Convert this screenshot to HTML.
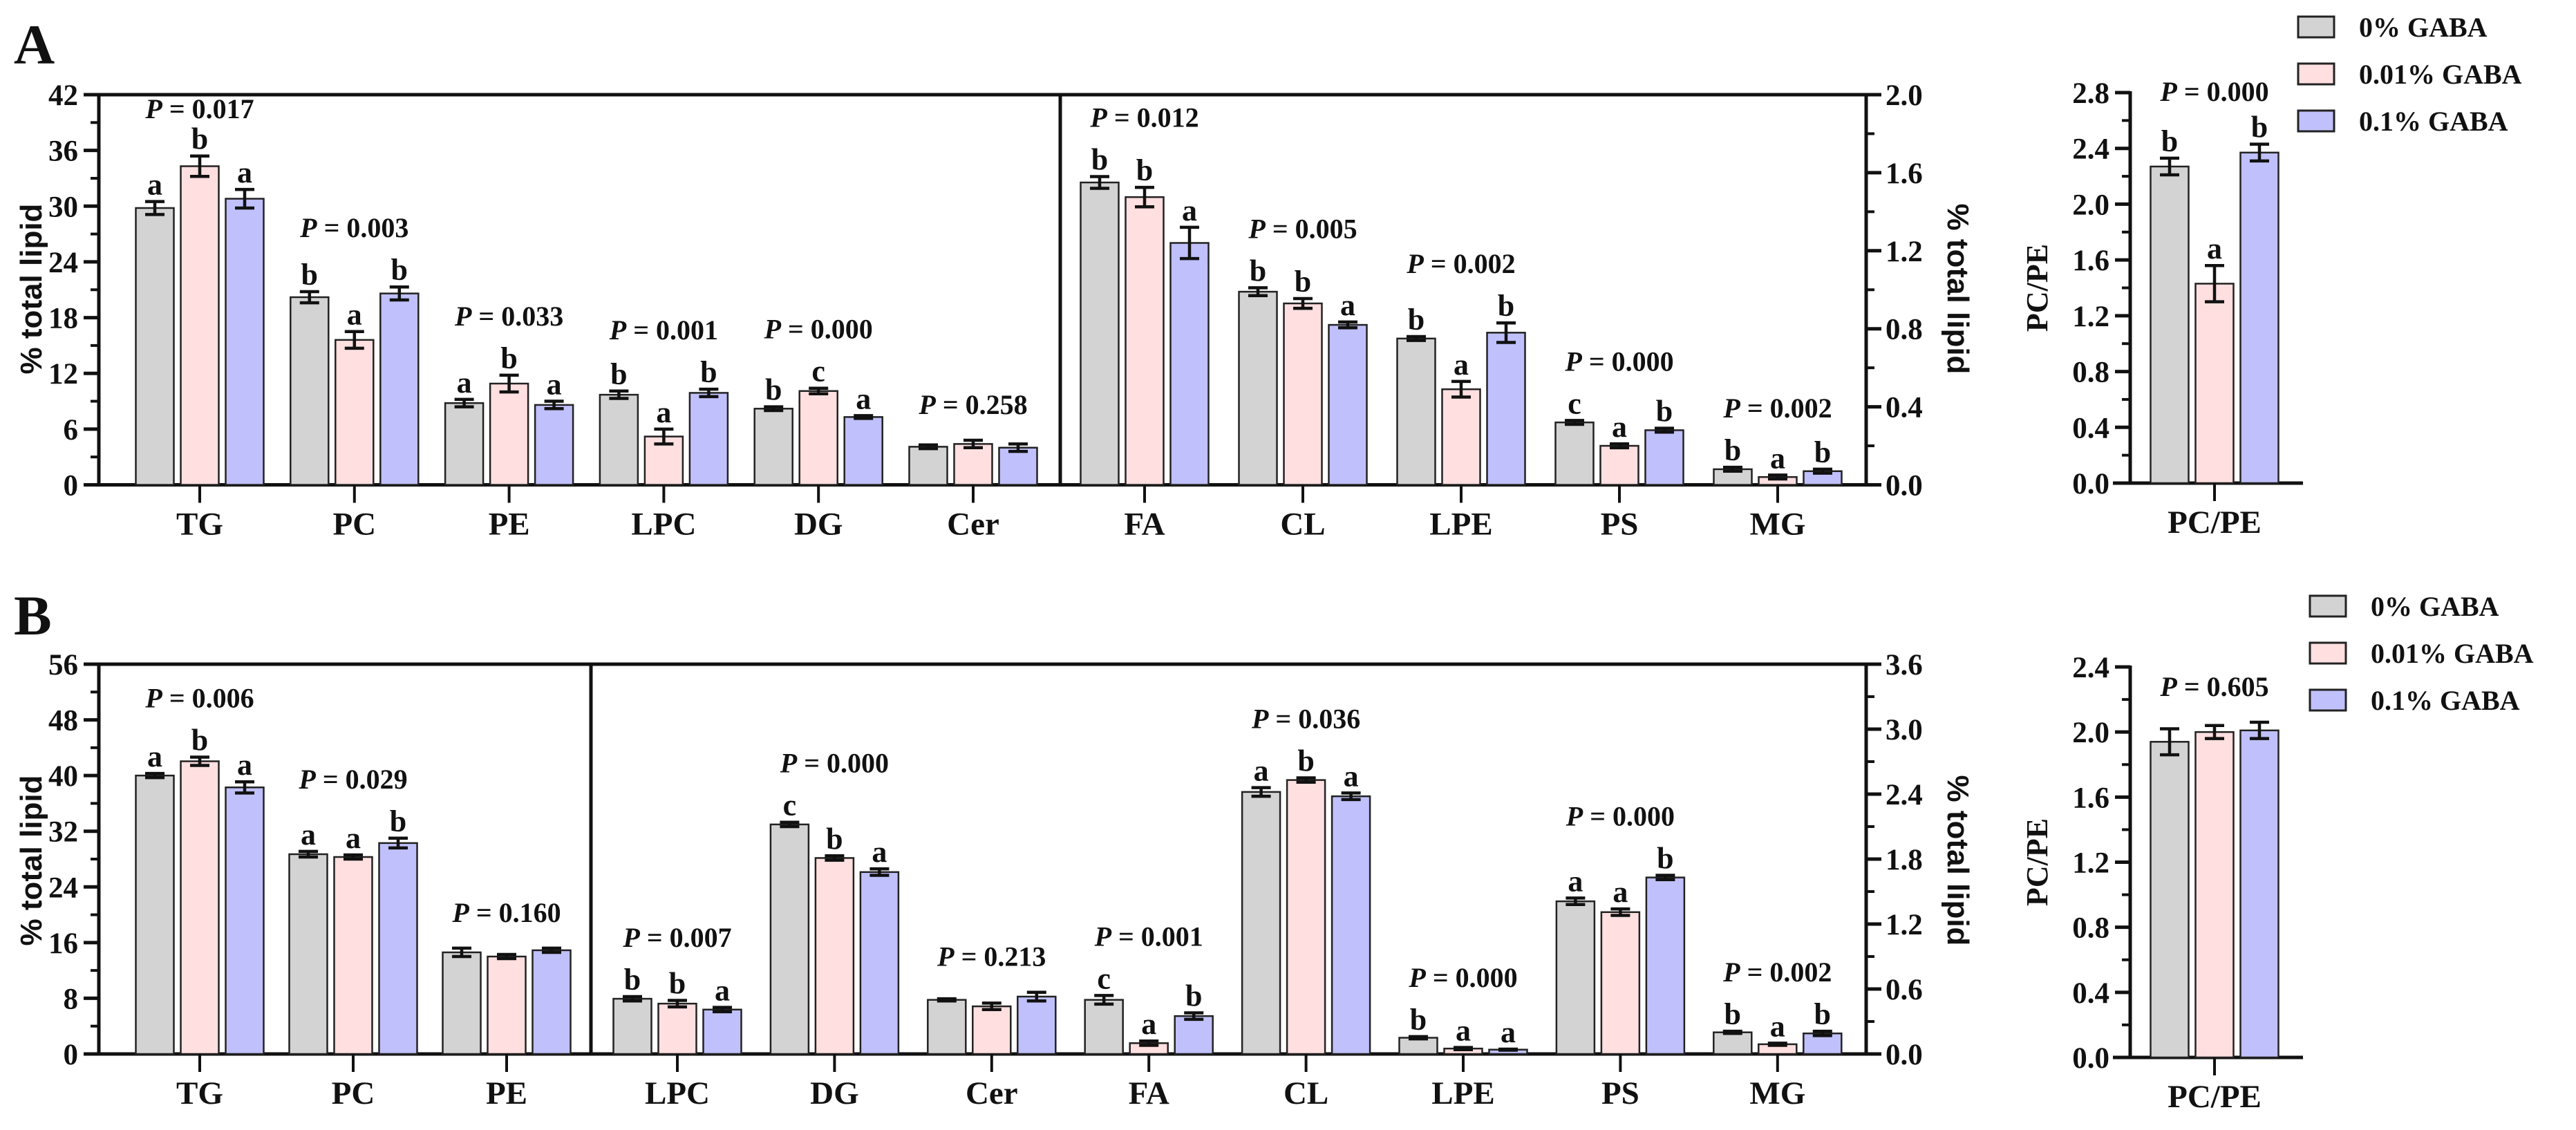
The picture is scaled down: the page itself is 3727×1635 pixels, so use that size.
<!DOCTYPE html>
<html><head><meta charset="utf-8">
<style>
html,body{margin:0;padding:0;background:#fff;}
svg{display:block;}
text{font-family:"Liberation Serif",serif;font-weight:bold;fill:#111;}
.sans{font-family:"Liberation Sans",sans-serif;}
</style></head>
<body>
<svg id="chart" width="3727" height="1635" viewBox="0 0 3727 1635" xmlns="http://www.w3.org/2000/svg">
<rect width="3727" height="1635" fill="#fff"/>
<text x="20" y="92" font-size="82">A</text>
<text x="20" y="918" font-size="82">B</text>
<g id="root"></g>
</svg>
<script>
// ---------- Panel A data ----------
const catsA1 = ["TG","PC","PE","LPC","DG","Cer"];
const ctrlA1 = [29.8,20.2,8.8,9.7,8.2,4.1];
const lowA1  = [34.3,15.6,10.9,5.2,10.1,4.4];
const highA1 = [30.8,20.6,8.6,9.9,7.3,4.0];
const errCtrlA1 = [0.7,0.6,0.4,0.4,0.2,0.2];
const errLowA1  = [1.1,0.9,0.9,0.8,0.3,0.4];
const errHighA1 = [1.0,0.7,0.4,0.4,0.15,0.4];
const letA1 = [["a","b","a"],["b","a","b"],["a","b","a"],["b","a","b"],["b","c","a"],["","",""]];
const pA1 = ["0.017","0.003","0.033","0.001","0.000","0.258"];
const ticksA1 = [0,6,12,18,24,30,36,42];

const catsA2 = ["FA","CL","LPE","PS","MG"];
const ctrlA2 = [1.55,0.99,0.75,0.32,0.08];
const lowA2  = [1.475,0.93,0.49,0.20,0.04];
const highA2 = [1.24,0.82,0.78,0.28,0.07];
const errCtrlA2 = [0.03,0.02,0.01,0.01,0.01];
const errLowA2  = [0.05,0.025,0.04,0.01,0.01];
const errHighA2 = [0.08,0.015,0.05,0.01,0.01];
const letA2 = [["b","b","a"],["b","b","a"],["b","a","b"],["c","a","b"],["b","a","b"]];
const pA2 = ["0.012","0.005","0.002","0.000","0.002"];
const ticksA2 = ["0.0","0.4","0.8","1.2","1.6","2.0"];

const ratioA = [2.27,1.43,2.37];
const ratioErrA = [0.06,0.13,0.06];
const ratioLetA = ["b","a","b"];
const ratioPA = "0.000";
const ratioTicksA = ["0.0","0.4","0.8","1.2","1.6","2.0","2.4","2.8"];

// ---------- Panel B data ----------
const catsB1 = ["TG","PC","PE"];
const ctrlB1 = [40.0,28.7,14.6];
const lowB1  = [42.05,28.3,14.0];
const highB1 = [38.3,30.3,14.9];
const errCtrlB1 = [0.3,0.4,0.6];
const errLowB1  = [0.6,0.3,0.3];
const errHighB1 = [0.8,0.7,0.3];
const letB1 = [["a","b","a"],["a","a","b"],["","",""]];
const pB1 = ["0.006","0.029","0.160"];
const ticksB1 = [0,8,16,24,32,40,48,56];

const catsB2 = ["LPC","DG","Cer","FA","CL","LPE","PS","MG"];
const ctrlB2 = [0.51,2.12,0.50,0.50,2.42,0.15,1.41,0.20];
const lowB2  = [0.465,1.81,0.44,0.10,2.53,0.05,1.31,0.09];
const highB2 = [0.41,1.68,0.53,0.35,2.38,0.04,1.63,0.19];
const errCtrlB2 = [0.02,0.02,0.01,0.04,0.04,0.01,0.03,0.01];
const errLowB2  = [0.03,0.02,0.03,0.02,0.02,0.01,0.03,0.01];
const errHighB2 = [0.02,0.03,0.04,0.03,0.03,0.005,0.02,0.02];
const letB2 = [["b","b","a"],["c","b","a"],["","",""],["c","a","b"],["a","b","a"],["b","a","a"],["a","a","b"],["b","a","b"]];
const pB2 = ["0.007","0.000","0.213","0.001","0.036","0.000","0.000","0.002"];
const ticksB2 = ["0.0","0.6","1.2","1.8","2.4","3.0","3.6"];

const ratioB = [1.94,2.00,2.01];
const ratioErrB = [0.08,0.04,0.05];
const ratioLetB = ["","",""];
const ratioPB = "0.605";
const ratioTicksB = ["0.0","0.4","0.8","1.2","1.6","2.0","2.4"];

const seriesNames = ["0% GABA","0.01% GABA","0.1% GABA"];

// ---------- drawing ----------
const NS = "http://www.w3.org/2000/svg";
const root = document.getElementById("root");
const FILLS = ["#d3d3d3","#ffdfe0","#c0c0fc"];
const SER = ["ctrl","low","high"];
function mk(tag, attrs, parent){
  const e = document.createElementNS(NS, tag);
  for (const k in attrs) e.setAttribute(k, attrs[k]);
  (parent||root).appendChild(e);
  return e;
}
function line(x1,y1,x2,y2,w,p){return mk("line",{x1,y1,x2,y2,stroke:"#111","stroke-width":w},p);}

function yScale(top,bottom,max){return v => bottom - v/max*(bottom-top);}

function yAxis(x, top, bottom, ticks, side, name){
  const max = parseFloat(ticks[ticks.length-1]);
  const y = yScale(top,bottom,max);
  const g = mk("g",{});
  
  
  line(x, top-2, x, bottom+2, 5, g);
  const dir = side==="left" ? -1 : 1;
  for (let i=0;i<ticks.length;i++){
    const v = parseFloat(ticks[i]);
    const yy = y(v);
    line(x, yy, x+dir*22, yy, 5, g);
    if (i<ticks.length-1){
      const vm = v + (parseFloat(ticks[1])-parseFloat(ticks[0]))/2;
      line(x, y(vm), x+dir*12, y(vm), 4, g);
    }
    const t = mk("text",{x: side==="left"? x-30 : x+28, y: yy+15, "font-size":43, "text-anchor": side==="left"?"end":"start"}, g);
    t.textContent = ticks[i];
    
    
  }
  return y;
}

function groups(cats, ctrl, low, high, eC, eL, eH, lets, ps, y, firstX, step, bottom, top, prefix, clampOff){
  const vals=[ctrl,low,high], errs=[eC,eL,eH];
  for (let i=0;i<cats.length;i++){
    const cx = firstX + i*step;
    const g = mk("g",{});
    
    
    let maxTop = bottom, anyLetter=false;
    for (let s=0;s<3;s++){
      const bx = cx + (s-1)*65;
      const v = vals[s][i], e = errs[s][i];
      const yt = y(v);
      const r = mk("rect",{x:bx-27.5, y:yt, width:55, height:bottom-yt, fill:FILLS[s], stroke:"#222","stroke-width":2.5}, g);
      
      
      const y1=y(v+e), y2=y(v-e);
      line(bx, y1, bx, y2, 4.5, g);
      line(bx-14, y1, bx+14, y1, 4.5, g);
      line(bx-14, y2, bx+14, y2, 4.5, g);
      maxTop = Math.min(maxTop, y1);
      if (lets[i][s]){
        anyLetter=true;
        const t = mk("text",{x:bx, y:y1-10, "font-size":44, "text-anchor":"middle"}, g);
        t.textContent = lets[i][s];
        
        
      }
    }
    let py = maxTop - (anyLetter? 72 : 38);
    py = Math.max(py, top+clampOff);
    const pt = mk("text",{x:cx, y:py, "font-size":40, "text-anchor":"middle"}, g);
    const ts1 = mk("tspan",{"font-style":"italic"}, pt); ts1.textContent="P";
    const ts2 = mk("tspan",{}, pt); ts2.textContent=" = "+ps[i];
    
    
    line(cx, bottom, cx, bottom+26, 4, g);
    const ct = mk("text",{x:cx, y:bottom+72, "font-size":47, "text-anchor":"middle"}, g);
    ct.textContent = cats[i];
    
    
  }
}

function yTitle(x, cy, txt, rot, name, cls){
  const t = mk("text",{x:x, y:cy, "font-size":44, "text-anchor":"middle", transform:`rotate(${rot} ${x} ${cy})`});
  if (cls) t.setAttribute("class", cls);
  t.textContent = txt;
  
  
}

function ratioPanel(vals, errs, lets, p, ticks, top, bottom, axisX, prefix){
  const y = yAxis(axisX, top, bottom, ticks, "left", prefix+"-ratio-y-axis");
  const xa = line(axisX-25, bottom, 3332, bottom, 5);
  
  
  groups(["PC/PE"], [vals[0]],[vals[1]],[vals[2]], [errs[0]],[errs[1]],[errs[2]], [lets], [p], y, 3204, 0, bottom, top, prefix+"-ratio", 12);
  yTitle(2962, (top+bottom)/2, "PC/PE", -90, prefix+"-ratio-y-title");
}

function legend(x, y0, prefix){
  for (let s=0;s<3;s++){
    const g = mk("g",{});
    
    
    const yy = y0 + s*68;
    mk("rect",{x:x, y:yy-15, width:52, height:30, fill:FILLS[s], stroke:"#222","stroke-width":3}, g);
    const t = mk("text",{x:x+88, y:yy+14, "font-size":40}, g);
    t.textContent = seriesNames[s];
  }
}

// Panel A
(function(){
  const top=137, bottom=701.5;
  const yl = yAxis(143, top, bottom, ticksA1.map(String), "left", "a-left-y-axis");
  const yr = yAxis(2700, top, bottom, ticksA2, "right", "a-right-y-axis");
  const f = mk("g",{});  
  line(141, top, 2702, top, 5, f); line(141, bottom, 2702, bottom, 5, f); line(1534, top, 1534, bottom, 5, f);
  groups(catsA1, ctrlA1, lowA1, highA1, errCtrlA1, errLowA1, errHighA1, letA1, pA1, yl, 289, 223.8, bottom, top, "a", 34);
  groups(catsA2, ctrlA2, lowA2, highA2, errCtrlA2, errLowA2, errHighA2, letA2, pA2, yr, 1656, 229, bottom, top, "a", 34);
  yTitle(60, 418, "% total lipid", -90, "a-left-y-title", "sans");
  yTitle(2818, 418, "% total lipid", 90, "a-right-y-title", "sans");
  ratioPanel(ratioA, ratioErrA, ratioLetA, ratioPA, ratioTicksA, 134, 699, 3082, "a");
  legend(3325, 39, "a");
})();

// Panel B
(function(){
  const top=961, bottom=1525;
  const yl = yAxis(143, top, bottom, ticksB1.map(String), "left", "b-left-y-axis");
  const yr = yAxis(2700, top, bottom, ticksB2, "right", "b-right-y-axis");
  const f = mk("g",{});  
  line(141, top, 2702, top, 5, f); line(141, bottom, 2702, bottom, 5, f); line(855, top, 855, bottom, 5, f);
  groups(catsB1, ctrlB1, lowB1, highB1, errCtrlB1, errLowB1, errHighB1, letB1, pB1, yl, 289, 222, bottom, top, "b", 34);
  groups(catsB2, ctrlB2, lowB2, highB2, errCtrlB2, errLowB2, errHighB2, letB2, pB2, yr, 980, 227.4, bottom, top, "b", 34);
  yTitle(60, 1245, "% total lipid", -90, "b-left-y-title", "sans");
  yTitle(2818, 1245, "% total lipid", 90, "b-right-y-title", "sans");
  ratioPanel(ratioB, ratioErrB, ratioLetB, ratioPB, ratioTicksB, 965, 1530, 3082, "b");
  legend(3342, 877, "b");
})();
</script>
</body></html>
